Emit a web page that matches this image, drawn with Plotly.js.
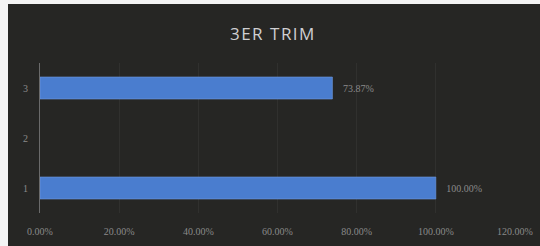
<!DOCTYPE html>
<html><head><meta charset="utf-8">
<script src="https://cdn.plot.ly/plotly-3.0.1.min.js"></script>
<style>
html,body{margin:0;padding:0;background:#f4f4f4;width:540px;height:246px;overflow:hidden}
#chart{position:absolute;left:8px;top:4px;width:532px;height:242px}
</style></head><body>
<div id="chart"></div>
<script>
const categories = ['1', '2', '3'];
const values = [1.0, null, 0.7387];
const labels = ['100.00%', '', '73.87%'];
const xTicks = [0, 0.2, 0.4, 0.6, 0.8, 1.0, 1.2];
const xTickLabels = ['0.00%', '20.00%', '40.00%', '60.00%', '80.00%', '100.00%', '120.00%'];

const trace = {
  type: 'bar', orientation: 'h',
  y: categories, x: values,
  text: labels, texttemplate: '   %{text}', textposition: 'outside',
  textfont: {color: '#8a8a8a', size: 10, family: 'Liberation Serif'},
  cliponaxis: false,
  marker: {color: '#4a7dcf', line: {color: '#6f9be0', width: 0.6}},
  width: 0.44, hoverinfo: 'none'
};
const layout = {
  width: 532, height: 242,
  paper_bgcolor: '#262624', plot_bgcolor: '#262624',
  margin: {l: 32, r: 25, t: 59, b: 33},
  showlegend: false,
  title: {text: '3ER TRIM', x: 0.498, xanchor: 'center', y: 0.875, yanchor: 'middle',
    font: {family: 'Open Sans', size: 17, color: '#cfcfd2', weight: 400}},
  xaxis: {range: [0, 1.2], tickvals: xTicks, ticktext: xTickLabels,
    showgrid: true, gridcolor: '#30302e', gridwidth: 1, zeroline: false,
    showline: false, ticks: '',
    tickfont: {family: 'Liberation Serif', size: 10, color: '#8a8a8a'}, ticklabelstandoff: 11},
  yaxis: {type: 'category', categoryorder: 'array', categoryarray: categories,
    range: [-0.5, 2.5], showgrid: false, zeroline: false,
    showline: true, linecolor: '#6a6a6a', linewidth: 1, ticks: '',
    tickfont: {family: 'Liberation Serif', size: 10, color: '#8a8a8a'}, ticklabelstandoff: 9},
  bargap: 0.56
};
Plotly.newPlot('chart', [trace], layout, {displayModeBar: false, staticPlot: true}).then(() => {
  const t = document.querySelector('.gtitle');
  if (t) t.style.letterSpacing = '1.5px';
});
</script>
</body></html>
